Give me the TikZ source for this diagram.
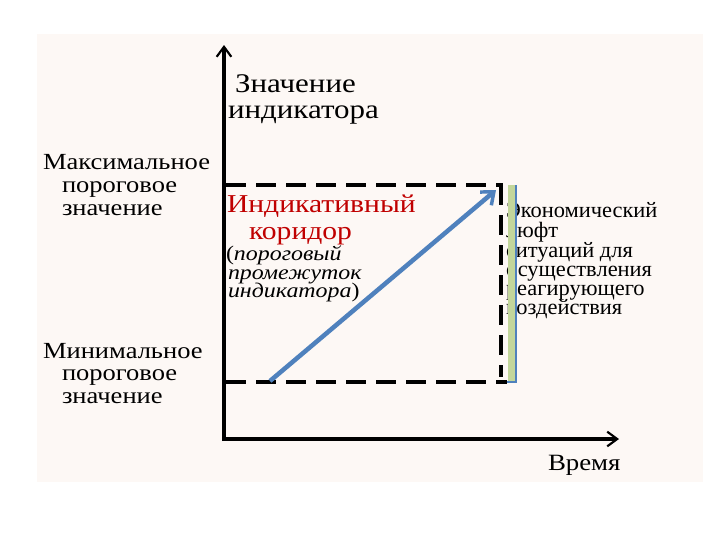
\documentclass[tikz,border=0pt]{standalone}
\usepackage{fontspec}
\setmainfont{Liberation Serif}
\newfontfamily\fA[FakeStretch=1.15]{Liberation Serif}
\newfontfamily\fB[FakeStretch=1.02]{Liberation Serif}
\usetikzlibrary{arrows.meta}
\definecolor{bgc}{HTML}{FDF8F5}
\definecolor{redc}{HTML}{C00000}
\definecolor{bluec}{HTML}{4F81BD}
\definecolor{greenc}{HTML}{C3D69B}
\tikzset{
  lbl/.style={anchor=base west,inner sep=0pt,outer sep=0pt},
  axis/.style={line width=2.8pt,-{Straight Barb[length=7.5pt,width=11pt,line width=1.6pt]}},
  dline/.style={line width=2.5pt,dash pattern=on 15pt off 7.5pt},
  bluearrow/.style={line width=3.4pt,color=bluec,-{Straight Barb[length=8pt,width=13pt,line width=2.6pt]}},
  rtxt/.style={lbl,font=\fB\fontsize{16.5pt}{19pt}\selectfont}
}
\begin{document}
\begin{tikzpicture}[x=0.75pt,y=-0.75pt]
\useasboundingbox (0,0) rectangle (720,540);
\fill[bgc] (37,34) rectangle (703,482);
% axes
\coordinate (ytop) at (224,45);
\coordinate (xend) at (619,439);
\draw[axis] (224,441) -- (ytop);
\draw[axis] (222,439) -- (xend);
% dashed corridor
\coordinate (tl) at (226,185);
\coordinate (tr) at (503,185);
\coordinate (bl) at (226,382);
\coordinate (br) at (507,382);
\coordinate (vt) at (501,185);
\coordinate (vb) at (501,377);
\draw[dline] (tl) -- (tr);
\draw[dline] (bl) -- (br);
\draw[dline] (vt) -- (vb);
% right text (partly hidden behind bar)
\node[rtxt] (r1) at (506,217) {Экономический};
\node[rtxt] (r2) at (506,237) {люфт};
\node[rtxt] (r3) at (506,257) {ситуаций для};
\node[rtxt] (r4) at (506,276) {осуществления};
\node[rtxt] (r5) at (506,295) {реагирующего};
\node[rtxt] (r6) at (506,314) {воздействия};
% bar
\fill[greenc] (508,185) rectangle (516,382);
\draw[bluec,line width=2.2pt] (507,382) -- (516,382) -- (516,185);
% blue arrow
\coordinate (as) at (270,381);
\coordinate (ae) at (496,190);
\draw[bluearrow] (as) -- (ae);
% labels
\node[lbl,font=\fA\fontsize{20.2pt}{24pt}\selectfont] (z1) at (235,92) {Значение};
\node[lbl,font=\fA\fontsize{20.2pt}{24pt}\selectfont] (z2) at (228,118) {индикатора};
\node[lbl,font=\fA\fontsize{17.3pt}{20pt}\selectfont] (mx1) at (43,169) {Максимальное};
\node[lbl,font=\fA\fontsize{17.3pt}{20pt}\selectfont] (mx2) at (62,192) {пороговое};
\node[lbl,font=\fA\fontsize{17.3pt}{20pt}\selectfont] (mx3) at (62,215) {значение};
\node[lbl,font=\fA\fontsize{17.3pt}{20pt}\selectfont] (mn1) at (43,358) {Минимальное};
\node[lbl,font=\fA\fontsize{17.3pt}{20pt}\selectfont] (mn2) at (62,380) {пороговое};
\node[lbl,font=\fA\fontsize{17.3pt}{20pt}\selectfont] (mn3) at (62,403) {значение};
\node[lbl,text=redc,font=\fA\fontsize{19.3pt}{22pt}\selectfont] (i1) at (227,212) {Индикативный};
\node[lbl,text=redc,font=\fA\fontsize{19.3pt}{22pt}\selectfont] (i2) at (249,239) {коридор};
\node[lbl,font=\fA\fontsize{15.6pt}{18pt}\selectfont] (p1) at (226,260) {(\textit{пороговый}};
\node[lbl,font=\fA\fontsize{15.6pt}{18pt}\selectfont] (p2) at (228,279) {\textit{промежуток}};
\node[lbl,font=\fA\fontsize{15.6pt}{18pt}\selectfont] (p3) at (228,297) {\textit{индикатора})};
\node[lbl,font=\fA\fontsize{17.5pt}{21pt}\selectfont] (t) at (548,470) {Время};
\end{tikzpicture}
\end{document}
